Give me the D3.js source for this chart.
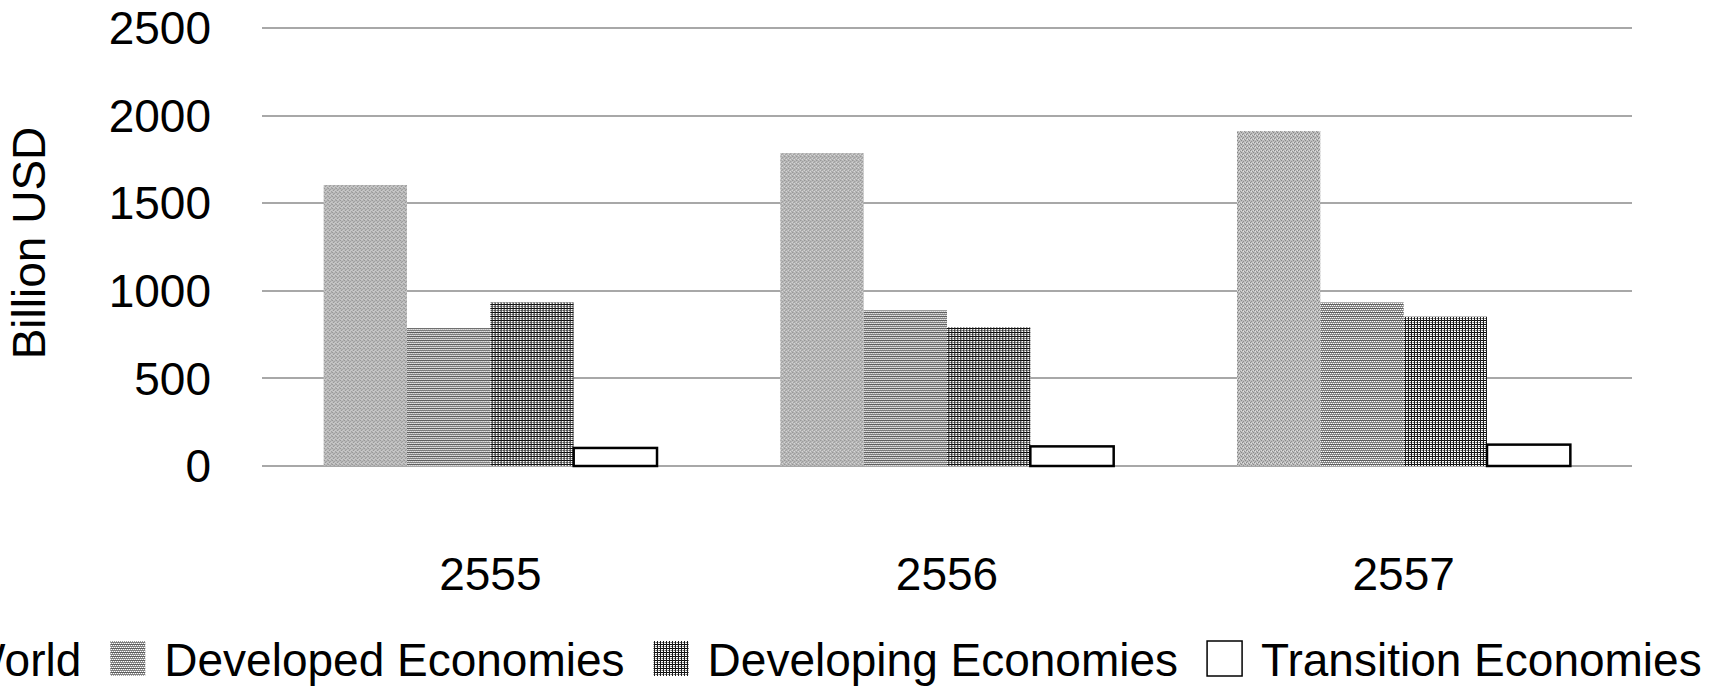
<!DOCTYPE html>
<html>
<head>
<meta charset="utf-8">
<script src="https://cdn.jsdelivr.net/npm/d3@7"></script>
<style>
  html, body { margin: 0; padding: 0; background: #fff; overflow: hidden; }
  text { font-family: "Liberation Sans", Arial, sans-serif; fill: #000; }
</style>
</head>
<body>
<svg id="chart" width="1723" height="687"></svg>
<script>
// ---- data ----
const categories = ["2555", "2556", "2557"];
const seriesNames = ["World", "Developed Economies", "Developing Economies", "Transition Economies"];
const worldValues = [1604, 1786, 1912];
const developedValues = [787, 889, 934];
const developingValues = [934, 792, 852];
const transitionValues = [103, 112, 122];
const yTicks = [0, 500, 1000, 1500, 2000, 2500];
const yAxisTitle = "Billion USD";

const seriesValues = [worldValues, developedValues, developingValues, transitionValues];

// ---- layout ----
const plot = { left: 262, right: 1632, top: 28, bottom: 466 };
const fontSize = 46;

const svg = d3.select("#chart");

// patterns
const defs = svg.append("defs");
function makePattern(id, w, h, bg, cells) {
  const p = defs.append("pattern").attr("id", id)
    .attr("patternUnits", "userSpaceOnUse")
    .attr("x", 0).attr("y", 0).attr("width", w).attr("height", h);
  p.append("rect").attr("width", w).attr("height", h).attr("fill", bg);
  cells.forEach(c => p.append("rect").attr("x", c[0]).attr("y", c[1])
    .attr("width", c[2]).attr("height", c[3]).attr("fill", c[4])
    .attr("shape-rendering", "crispEdges"));
}
// World: light grey mottled
makePattern("pWorld", 4, 4, "#bdbdbd", [
  [0, 0, 1, 1, "#868686"], [2, 1, 1, 1, "#929292"], [1, 2, 1, 1, "#868686"], [3, 3, 1, 1, "#929292"],
  [2, 3, 1, 1, "#e2e2e2"], [0, 2, 1, 1, "#dcdcdc"]
]);
// Developed: horizontal fine lines
makePattern("pDeveloped", 2, 4, "#ffffff", [
  [0, 0, 2, 1, "#5e5e5e"], [0, 1, 1, 1, "#9a9a9a"], [0, 2, 2, 1, "#7e7e7e"], [1, 3, 1, 1, "#a8a8a8"]
]);
// Developing: dark grid
makePattern("pDeveloping", 3, 4, "#ffffff", [
  [0, 0, 3, 1, "#0a0a0a"], [0, 0, 1, 4, "#1a1a1a"], [2, 2, 1, 1, "#6a6a6a"], [1, 2, 1, 1, "#b0b0b0"]
]);

const fills = ["url(#pWorld)", "url(#pDeveloped)", "url(#pDeveloping)", "#ffffff"];
const strokes = ["none", "none", "none", "#000"];

// scales
const x0 = d3.scaleBand().domain(categories).range([plot.left, plot.right])
  .paddingInner(0.27).paddingOuter(0.135);
const x1 = d3.scaleBand().domain(d3.range(seriesNames.length)).range([0, x0.bandwidth()]).padding(0);
const y = d3.scaleLinear().domain([0, 2500]).range([plot.bottom, plot.top]);

// gridlines
svg.append("g").selectAll("line").data(yTicks).join("line")
  .attr("x1", plot.left).attr("x2", plot.right)
  .attr("y1", d => Math.round(y(d))).attr("y2", d => Math.round(y(d)))
  .attr("stroke", "#a8a8a8").attr("stroke-width", 2);

// y axis labels
const yAxis = d3.axisLeft(y).tickValues(yTicks).tickFormat(d3.format("d")).tickSize(0).tickPadding(0);
const yg = svg.append("g").attr("transform", `translate(211,0)`).call(yAxis);
yg.select(".domain").remove();
yg.selectAll("text").attr("font-size", fontSize).attr("font-family", "Liberation Sans, Arial, sans-serif")
  .attr("fill", "#000").attr("dy", "0.34em");

// x axis labels
const xAxis = d3.axisBottom(x0).tickSize(0).tickPadding(0);
const xg = svg.append("g").attr("transform", `translate(0,590)`).call(xAxis);
xg.select(".domain").remove();
xg.selectAll("text").attr("font-size", fontSize).attr("font-family", "Liberation Sans, Arial, sans-serif")
  .attr("fill", "#000").attr("dy", 0);

// bars
const groups = svg.append("g").selectAll("g").data(categories).join("g")
  .attr("transform", d => `translate(${x0(d)},0)`);
groups.selectAll("rect").data((d, ci) => seriesValues.map((vals, si) => ({ si, v: vals[ci] })))
  .join("rect")
  .attr("x", d => x1(d.si))
  .attr("width", x1.bandwidth())
  .attr("y", d => y(d.v))
  .attr("height", d => y(0) - y(d.v))
  .attr("fill", d => fills[d.si])
  .attr("stroke", d => strokes[d.si])
  .attr("stroke-width", d => d.si === 3 ? 2.5 : 0);

// y axis title
svg.append("text")
  .attr("transform", `translate(45,243) rotate(-90)`)
  .attr("text-anchor", "middle")
  .attr("font-size", fontSize)
  .text(yAxisTitle);

// legend
const legend = svg.append("g");
const swW = 35, swH = 35, swGap = 19, itemGap = 29;
let lx = -92;
seriesNames.forEach((name, i) => {
  legend.append("rect").attr("x", lx).attr("y", 641).attr("width", swW).attr("height", swH)
    .attr("fill", fills[i]).attr("stroke", i === 3 ? "#000" : "none").attr("stroke-width", 1.5);
  const t = legend.append("text").attr("x", lx + swW + swGap).attr("y", 676)
    .attr("font-size", fontSize).text(name);
  lx += swW + swGap + t.node().getComputedTextLength() + itemGap;
});
</script>
</body>
</html>
